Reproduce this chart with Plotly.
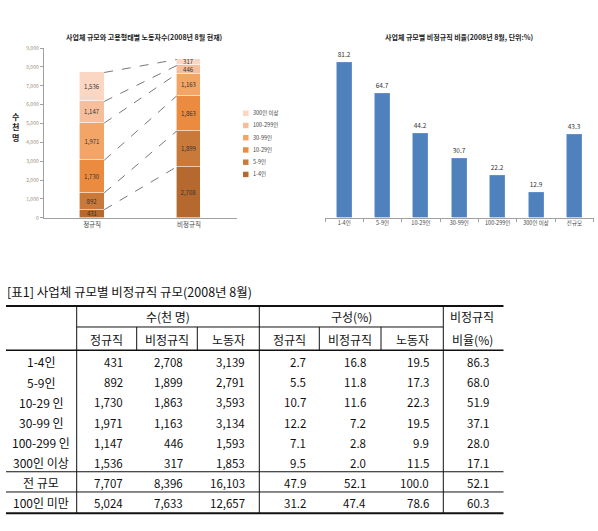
import plotly.graph_objects as go

W, H = 598, 531
FONT = "Noto Sans CJK KR"

# ---------------- data ----------------
size_labels = ["1-4인", "5-9인", "10-29인", "30-99인", "100-299인", "300인 이상"]
regular = [431, 892, 1730, 1971, 1147, 1536]
irregular = [2708, 1899, 1863, 1163, 446, 317]
emp_types = ["정규직", "비정규직"]
seg_colors = ["#B5692F", "#C9793A", "#EB8B40", "#F3A467", "#F7BE9B", "#FBD6C2"]
y_ticks = [0, 1000, 2000, 3000, 4000, 5000, 6000, 7000, 8000, 9000]

ratio_cats = ["1-4인", "5-9인", "10-29인", "30-99인", "100-299인", "300인 이상", "전규모"]
ratio_vals = [81.2, 64.7, 44.2, 30.7, 22.2, 12.9, 43.3]

tbl_rows = ["1-4인", "5-9인", "10-29 인", "30-99 인", "100-299 인", "300인 이상", "전 규모", "100인 미만"]
reg_n = [431, 892, 1730, 1971, 1147, 1536, 7707, 5024]
irr_n = [2708, 1899, 1863, 1163, 446, 317, 8396, 7633]
tot_n = [3139, 2791, 3593, 3134, 1593, 1853, 16103, 12657]
reg_p = [2.7, 5.5, 10.7, 12.2, 7.1, 9.5, 47.9, 31.2]
irr_p = [16.8, 11.8, 11.6, 7.2, 2.8, 2.0, 52.1, 47.4]
tot_p = [19.5, 17.3, 22.3, 19.5, 9.9, 11.5, 100.0, 78.6]
ratio_p = [86.3, 68.0, 51.9, 37.1, 28.0, 17.1, 52.1, 60.3]


def px(x):
    return x / W


def py(y):
    return 1 - y / H


fig = go.Figure()

# ---------------- left chart: stacked bars ----------------
for i, lab in enumerate(size_labels):
    vals = [regular[i], irregular[i]]
    fig.add_trace(go.Bar(
        x=[0, 1], y=vals, name=lab, width=0.25,
        marker=dict(color=seg_colors[i], line=dict(color="white", width=0.6)),
        text=[f"{v:,}" for v in vals], textposition="inside",
        insidetextanchor="middle", constraintext="none",
        textfont=dict(size=6, color="#333", family=FONT),
        xaxis="x", yaxis="y", hoverinfo="skip", showlegend=False,
    ))

# series lines connecting cumulative tops
cum_r, cum_i = 0, 0
for i in range(len(size_labels)):
    cum_r += regular[i]
    cum_i += irregular[i]
    fig.add_trace(go.Scatter(
        x=[0.125, 0.875], y=[cum_r, cum_i], mode="lines",
        line=dict(color="#555", width=0.8, dash="dash"),
        showlegend=False, xaxis="x", yaxis="y", hoverinfo="skip",
    ))

# ---------------- right chart: ratio bars ----------------
fig.add_trace(go.Bar(
    x=ratio_cats, y=ratio_vals, width=0.39,
    marker=dict(color="#4F81BD", line=dict(color="#6f9bd1", width=0.6)),
    text=[f"{v:.1f}" for v in ratio_vals], textposition="outside",
    textfont=dict(size=6.5, color="#333", family=FONT), cliponaxis=False,
    showlegend=False, xaxis="x2", yaxis="y2", hoverinfo="skip",
))

ydom = [py(216.7), py(44.7)]
fig.update_layout(
    width=W, height=H, margin=dict(l=0, r=0, t=0, b=0),
    paper_bgcolor="white", plot_bgcolor="white",
    font=dict(family=FONT, color="#333"),
    barmode="stack", bargap=0, showlegend=False,
    xaxis=dict(domain=[px(43.7), px(237.3)], range=[-0.5, 1.5],
               tickvals=[0, 1], ticktext=emp_types, showline=True,
               linecolor="#a0a0a0", linewidth=1, showgrid=False, zeroline=False,
               ticks="", tickfont=dict(size=6.5, color="#444"), fixedrange=True),
    yaxis=dict(domain=ydom, range=[0, 9000], tickvals=y_ticks,
               tickformat=",", showline=True, linecolor="#a0a0a0", linewidth=1,
               ticks="outside", ticklen=3, tickcolor="#a0a0a0",
               showgrid=False, zeroline=False,
               tickfont=dict(size=5, color="#9a8a78"), fixedrange=True),
    xaxis2=dict(domain=[px(325), px(593.6)], anchor="y2", type="category",
                showline=True, linecolor="#a0a0a0", linewidth=1,
                ticks="outside", tickson="boundaries", ticklen=3,
                tickcolor="#a0a0a0", showgrid=False, tickangle=0,
                tickfont=dict(size=5.5, color="#444"), fixedrange=True),
    yaxis2=dict(domain=[py(216.7), py(216.7 - 90 * 1.938)], anchor="x2",
                range=[0, 90], visible=False, fixedrange=True),
)

ann = []


def text(t, x, y, size, xanchor="center", color="#111"):
    ann.append(dict(text=t, x=px(x), y=py(y), xref="paper", yref="paper",
                    xanchor=xanchor, yanchor="middle", showarrow=False,
                    font=dict(size=size, color=color)))


# chart titles
text("<b>사업체 규모와 고용형태별 노동자수(2008년 8월 현재)</b>", 144, 33, 7, color="#222")
text("<b>사업체 규모별 비정규직 비율(2008년 8월, 단위:%)</b>", 459, 33, 7, color="#222")
text("<b>수<br>천<br>명</b>", 16, 125, 8, color="#222")

shapes = []

# manual legend (reversed order: 300인 이상 at top)
for k, i in enumerate(reversed(range(len(size_labels)))):
    yc = 110.7 + k * 12.4
    shapes.append(dict(type="rect", xref="paper", yref="paper",
                       x0=px(243), x1=px(248.5), y0=py(yc - 2.75), y1=py(yc + 2.75),
                       fillcolor=seg_colors[i], line=dict(width=0)))
    text(size_labels[i], 251, yc, 5.5, xanchor="left", color="#444")

# ---------------- table ----------------
text("[표1] 사업체 규모별 비정규직 규모(2008년 8월)", 5, 291.5, 12.5, xanchor="left")

text("수(천 명)", 168, 317, 12)
text("구성(%)", 351.5, 317, 12)
text("비정규직", 472, 317, 12)
text("비율(%)", 472, 340, 12)
sub_hdr = ["정규직", "비정규직", "노동자", "정규직", "비정규직", "노동자"]
sub_x = [106.7, 167, 228.3, 289.3, 350, 412.3]
for t, x in zip(sub_hdr, sub_x):
    text(t, x, 340, 12)

row_y = [362.7, 383.3, 403.7, 424.2, 444.6, 465, 485, 505.3]
col_right = [124.5, 184.5, 247, 307.5, 368, 430.5, 490.5]
columns = [
    [f"{v:,}" for v in reg_n],
    [f"{v:,}" for v in irr_n],
    [f"{v:,}" for v in tot_n],
    [f"{v:.1f}" for v in reg_p],
    [f"{v:.1f}" for v in irr_p],
    [f"{v:.1f}" for v in tot_p],
    [f"{v:.1f}" for v in ratio_p],
]
for r, lab in enumerate(tbl_rows):
    text(lab, 41, row_y[r], 12)
    for c, col in enumerate(columns):
        text(col[r], col_right[c], row_y[r], 11.5, xanchor="right")


def hline(x0, x1, y, w=1):
    shapes.append(dict(type="line", xref="paper", yref="paper",
                       x0=px(x0), x1=px(x1), y0=py(y), y1=py(y),
                       line=dict(color="#111", width=w)))


def vline(x, y0, y1, w=1):
    shapes.append(dict(type="line", xref="paper", yref="paper",
                       x0=px(x), x1=px(x), y0=py(y0), y1=py(y1),
                       line=dict(color="#111", width=w)))


hline(6, 503.5, 306, 2)
hline(76.7, 443.3, 327.3, 1)
hline(6, 503.5, 351, 1.5)
hline(6, 503.5, 474, 1)
hline(6, 503.5, 494.5, 1)
hline(6, 503.5, 516, 2)
for x in [76.7, 259.3, 443.3]:
    vline(x, 306, 516)
for x in [136.7, 197.3, 319.3, 381]:
    vline(x, 327.3, 351)

fig.update_layout(annotations=ann, shapes=shapes)
fig.write_html("out.html")
